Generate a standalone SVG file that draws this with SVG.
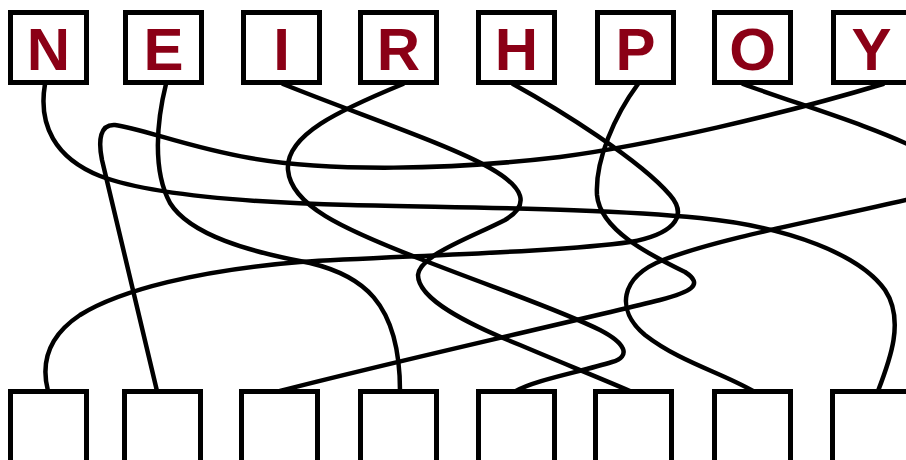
<svg xmlns="http://www.w3.org/2000/svg" width="906" height="460" viewBox="0 0 906 460">
<style>
.box{fill:#fff;stroke:#000;stroke-width:5}
.lbl{font-family:"Liberation Sans",Arial,sans-serif;font-weight:bold;font-size:60px;fill:#8b0016;text-anchor:middle}
.wire{fill:none;stroke:#000;stroke-width:4.5;stroke-linecap:round;stroke-linejoin:round}
</style>
<rect width="906" height="460" fill="#fff"/>
<g id="connectors">
<path class="wire" d="M45,84 C38,125 55,158 100,176 C145,193 230,202 350,205 C470,208 600,208 700,218 C790,227 860,255 885,290 C905,320 890,360 878,391"/>
<path class="wire" d="M166,84 C157,120 152,170 170,203 C190,235 250,252 310,263 C360,275 400,300 400,391"/>
<path class="wire" d="M283,84 C360,115 450,145 490,168 C525,188 530,205 505,220 C470,238 420,255 418,275 C418,300 470,325 520,345 C560,362 600,378 630,391"/>
<path class="wire" d="M403,84 C340,110 285,135 288,170 C291,205 340,228 423,260 C500,290 560,310 600,330 C625,343 632,356 612,362 C580,372 535,380 516,391"/>
<path class="wire" d="M513,84 C560,110 640,160 670,195 C690,218 670,235 630,242 C560,252 400,256 300,262 C200,270 120,290 80,315 C50,335 40,360 48,391"/>
<path class="wire" d="M638,84 C615,115 595,160 597,195 C600,230 650,255 685,272 C705,285 690,292 660,300 C580,320 400,360 280,391"/>
<path class="wire" d="M743,84 C800,105 870,125 920,150 C965,175 946,191 906,200 C820,220 720,238 663,260 C620,277 615,310 645,335 C680,362 720,372 753,391"/>
<path class="wire" d="M883,84 C780,115 650,145 560,157 C450,170 330,172 250,158 C190,148 140,128 115,125 C100,124 98,140 102,160 L157,391"/>
</g>
<g id="top-N"><rect class="box" x="10.5" y="12.5" width="76" height="70"/><text class="lbl" x="48.5" y="70">N</text></g>
<g id="top-E"><rect class="box" x="125.5" y="12.5" width="76" height="70"/><text class="lbl" x="163.5" y="70">E</text></g>
<g id="top-I"><rect class="box" x="243.5" y="12.5" width="76" height="70"/><text class="lbl" x="281.5" y="70">I</text></g>
<g id="top-R"><rect class="box" x="360.5" y="12.5" width="76" height="70"/><text class="lbl" x="398.5" y="70">R</text></g>
<g id="top-H"><rect class="box" x="478.5" y="12.5" width="76" height="70"/><text class="lbl" x="516.5" y="70">H</text></g>
<g id="top-P"><rect class="box" x="597.5" y="12.5" width="76" height="70"/><text class="lbl" x="635.5" y="70">P</text></g>
<g id="top-O"><rect class="box" x="714.5" y="12.5" width="76" height="70"/><text class="lbl" x="752.5" y="70">O</text></g>
<g id="top-Y"><rect class="box" x="833.5" y="12.5" width="76" height="70"/><text class="lbl" x="871.5" y="70">Y</text></g>
<g id="bottom-1"><rect class="box" x="10.5" y="391.5" width="76" height="75"/></g>
<g id="bottom-2"><rect class="box" x="124.5" y="391.5" width="76" height="75"/></g>
<g id="bottom-3"><rect class="box" x="241.5" y="391.5" width="76" height="75"/></g>
<g id="bottom-4"><rect class="box" x="360.5" y="391.5" width="76" height="75"/></g>
<g id="bottom-5"><rect class="box" x="478.5" y="391.5" width="76" height="75"/></g>
<g id="bottom-6"><rect class="box" x="595.5" y="391.5" width="76" height="75"/></g>
<g id="bottom-7"><rect class="box" x="714.5" y="391.5" width="76" height="75"/></g>
<g id="bottom-8"><rect class="box" x="832.5" y="391.5" width="76" height="75"/></g>
</svg>
